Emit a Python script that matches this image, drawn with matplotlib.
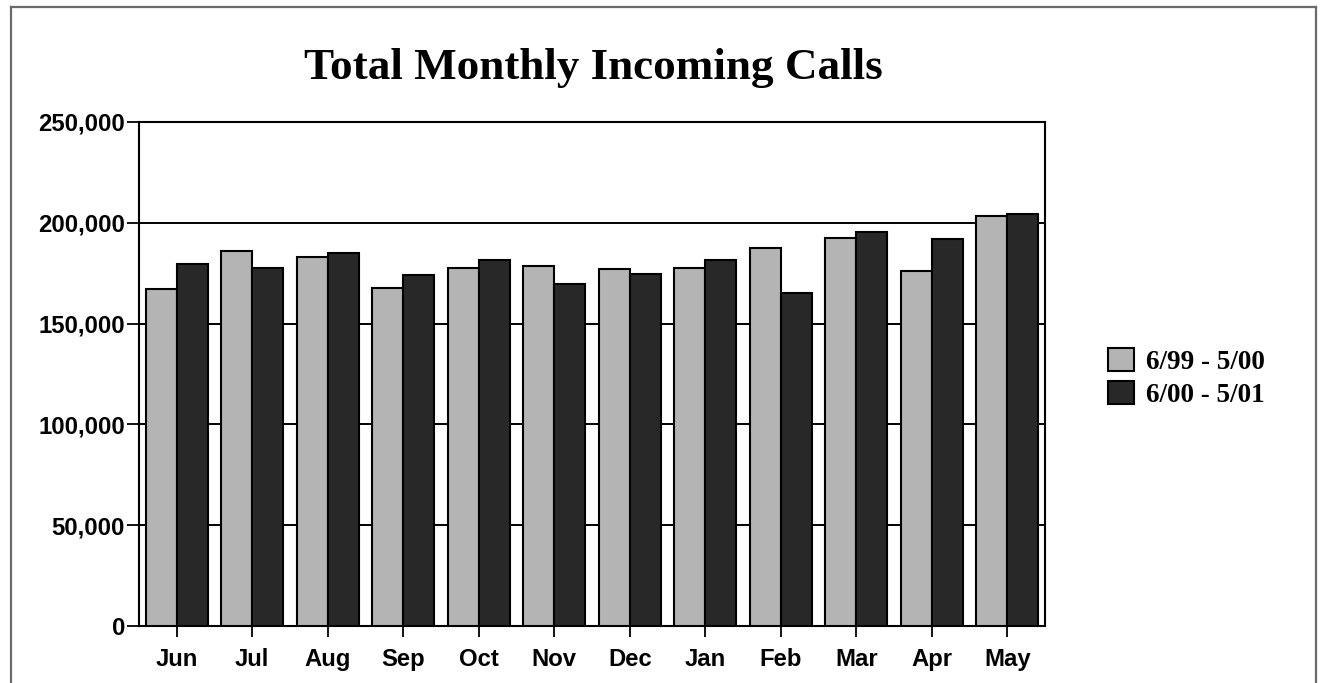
import matplotlib
matplotlib.use("Agg")
import matplotlib.pyplot as plt
from matplotlib.lines import Line2D
from matplotlib.ticker import FuncFormatter, MultipleLocator
import numpy as np

months = ["Jun", "Jul", "Aug", "Sep", "Oct", "Nov", "Dec", "Jan", "Feb", "Mar", "Apr", "May"]
series_names = ["6/99 - 5/00", "6/00 - 5/01"]
calls_9900 = [167200, 185800, 183200, 167800, 177600, 178700, 176900, 177600, 187300, 192700, 176200, 203500]
calls_0001 = [179400, 177600, 185000, 174100, 181300, 169600, 174400, 181500, 165000, 195500, 191900, 204300]

W, H = 1322, 683
fig = plt.figure(figsize=(W / 100, H / 100), dpi=100)
fig.patch.set_facecolor("white")

ax = fig.add_axes([139 / W, 1 - 626 / H, (1045 - 139) / W, (626 - 122) / H])

x = np.arange(len(months))
bw = 0.41
light = "#b4b4b4"
dark = "#282828"
b1 = ax.bar(x - bw / 2, calls_9900, width=bw, color=light, edgecolor="black", linewidth=1.5,
            label=series_names[0], zorder=3)
b2 = ax.bar(x + bw / 2, calls_0001, width=bw, color=dark, edgecolor="black", linewidth=1.5,
            label=series_names[1], zorder=3)

ax.set_xlim(-0.5, len(months) - 0.5)
ax.set_ylim(0, 250000)
ax.yaxis.set_major_locator(MultipleLocator(50000))
ax.yaxis.set_major_formatter(FuncFormatter(lambda v, p: f"{int(v):,}"))
ax.set_xticks(x)
ax.set_xticklabels(months)

ax.set_axisbelow(True)
ax.yaxis.grid(True, color="black", linewidth=1.4)
for s in ax.spines.values():
    s.set_color("black")
    s.set_linewidth(1.5)

ax.tick_params(axis="y", direction="out", length=9, width=1.3, pad=1, colors="black")
ax.tick_params(axis="x", direction="out", length=8, width=1.3, pad=8, colors="black")
for lab in ax.get_xticklabels() + ax.get_yticklabels():
    lab.set_fontfamily(["Liberation Sans", "DejaVu Sans"])
    lab.set_fontweight("bold")
    lab.set_fontsize(17.2)

fig.text(593 / W, 1 - 79 / H, "Total Monthly Incoming Calls", ha="center", va="baseline",
         fontfamily=["Liberation Serif", "DejaVu Serif"], fontweight="bold", fontsize=32.5)

leg = fig.legend(handles=[b1, b2], labels=series_names, loc="center left",
                 bbox_to_anchor=(1108 / W, 1 - 378 / H), frameon=False,
                 prop=dict(family=["Liberation Serif", "DejaVu Serif"], weight="bold", size=19.5),
                 handlelength=0.95, handleheight=0.9, handletextpad=0.45, labelspacing=0.25,
                 borderpad=0, borderaxespad=0)

# outer frame
fc = "#6a6a6a"
fig.add_artist(Line2D([11 / W, 11 / W], [0, 1 - 7 / H], color=fc, lw=1.6, transform=fig.transFigure))
fig.add_artist(Line2D([11 / W, 1316 / W], [1 - 7 / H, 1 - 7 / H], color=fc, lw=1.6, transform=fig.transFigure))
fig.add_artist(Line2D([1316 / W, 1316 / W], [0, 1 - 7 / H], color=fc, lw=1.6, transform=fig.transFigure))

fig.savefig("out.png", dpi=100, facecolor="white")
